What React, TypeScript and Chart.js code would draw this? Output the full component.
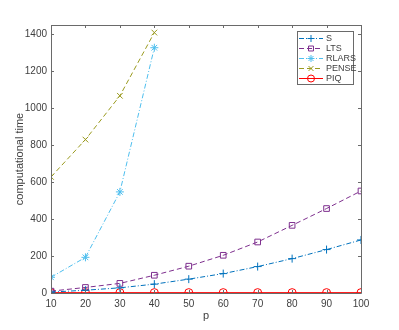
import React, { useEffect, useRef } from "react";
import { Chart, registerables } from "chart.js";
import { drawPoint } from "chart.js/helpers";

Chart.register(...registerables);

const pValues = [10, 20, 30, 40, 50, 60, 70, 80, 90, 100];
const sTime = [5, 15, 28, 48, 75, 105, 143, 186, 235, 287];
const ltsTime = [10, 30, 52, 96, 145, 204, 276, 366, 457, 552];
const rlarsTime = [85, 193, 547, 1327];
const penseTime = [628, 830, 1067, 1409];
const piqTime = [2, 2, 2, 2, 2, 2, 2, 2, 2, 2];
const yTicks = [0, 200, 400, 600, 800, 1000, 1200, 1400];
const seriesNames = ["S", "LTS", "RLARS", "PENSE", "PIQ"];

const AXIS_COLOR = "#6a6a6a";
const TEXT_COLOR = "#404040";
const FONT = "Liberation Sans, Arial, sans-serif";

type Style = { color: string; dash: number[]; point: string; radius: number };
const styles: Style[] = [
  { color: "#0072BD", dash: [5, 2, 1, 2], point: "cross", radius: 4 },
  { color: "#7E2F8E", dash: [5, 3], point: "rect", radius: 4 },
  { color: "#4DBEEE", dash: [5, 2, 1, 2], point: "star", radius: 4 },
  { color: "#9a9a1e", dash: [5, 3], point: "crossRot", radius: 4 },
  { color: "#FF0000", dash: [], point: "circle", radius: 4 },
];

const toPts = (ys: number[]) => ys.map((y, i) => ({ x: pValues[i], y }));

const framePlugin = {
  id: "frame",
  afterDraw(chart: any) {
    const { ctx, chartArea: a, scales } = chart;
    const xs = scales.x;
    const ys = scales.y;
    ctx.save();
    ctx.strokeStyle = AXIS_COLOR;
    ctx.lineWidth = 1;
    ctx.setLineDash([]);
    ctx.beginPath();
    ctx.rect(a.left + 0.5, a.top + 0.5, a.right - a.left, a.bottom - a.top);
    ctx.stroke();
    const tl = 3;
    ctx.beginPath();
    pValues.forEach((v) => {
      const px = Math.round(xs.getPixelForValue(v)) + 0.5;
      ctx.moveTo(px, a.bottom);
      ctx.lineTo(px, a.bottom - tl);
      ctx.moveTo(px, a.top);
      ctx.lineTo(px, a.top + tl);
    });
    yTicks.forEach((v) => {
      const py = Math.round(ys.getPixelForValue(v)) + 0.5;
      ctx.moveTo(a.left, py);
      ctx.lineTo(a.left + tl, py);
      ctx.moveTo(a.right, py);
      ctx.lineTo(a.right - tl, py);
    });
    ctx.stroke();

    // axis titles
    ctx.fillStyle = TEXT_COLOR;
    ctx.font = `11px ${FONT}`;
    ctx.textAlign = "center";
    ctx.textBaseline = "middle";
    ctx.fillText("p", (a.left + a.right) / 2, 316);
    ctx.save();
    ctx.translate(20, (a.top + a.bottom) / 2);
    ctx.rotate(-Math.PI / 2);
    ctx.fillText("computational time", 0, 0);
    ctx.restore();

    // legend
    const bx = 297, by = 31, bw = 56, bh = 53;
    ctx.fillStyle = "#ffffff";
    ctx.fillRect(bx, by, bw, bh);
    ctx.strokeStyle = AXIS_COLOR;
    ctx.strokeRect(bx + 0.5, by + 0.5, bw, bh);
    ctx.font = `9px ${FONT}`;
    ctx.textAlign = "left";
    seriesNames.forEach((name, i) => {
      const st = styles[i];
      const yy = by + 7.5 + i * 10;
      ctx.strokeStyle = st.color;
      ctx.lineWidth = 1;
      ctx.setLineDash(st.dash);
      ctx.beginPath();
      ctx.moveTo(299, yy);
      ctx.lineTo(323, yy);
      ctx.stroke();
      ctx.setLineDash([]);
      ctx.fillStyle = st.point === "star" ? st.color : "rgba(0,0,0,0)";
      drawPoint(ctx, { pointStyle: st.point, radius: 3.5, rotation: 0, borderWidth: 1 } as any, 311, yy);
      ctx.fillStyle = TEXT_COLOR;
      ctx.fillText(name, 326, yy + 0.5);
    });
    ctx.restore();
  },
};

export default function App() {
  const ref = useRef<HTMLCanvasElement | null>(null);
  useEffect(() => {
    document.body.style.margin = "0";
    const allData = [sTime, ltsTime, rlarsTime, penseTime, piqTime];
    const datasets = allData.map((d, i) => {
      const st = styles[i];
      return {
        label: seriesNames[i],
        data: toPts(d),
        borderColor: st.color,
        backgroundColor: st.color,
        borderWidth: 1,
        borderDash: st.dash,
        pointStyle: st.point,
        pointRadius: st.radius,
        pointBorderColor: st.color,
        pointBackgroundColor: st.point === "star" ? st.color : "rgba(0,0,0,0)",
        pointBorderWidth: 1,
        fill: false,
        tension: 0,
      };
    });
    const chart = new Chart(ref.current as HTMLCanvasElement, {
      type: "line",
      data: { datasets } as any,
      plugins: [framePlugin],
      options: {
        animation: false,
        responsive: false,
        layout: { padding: { left: 0, top: 25, right: 38, bottom: 0 } },
        plugins: { legend: { display: false }, tooltip: { enabled: false } },
        scales: {
          x: {
            type: "linear",
            min: 10,
            max: 100,
            afterFit: (s: any) => { s.height = 37; },
            afterBuildTicks: (s: any) => { s.ticks = pValues.map((v) => ({ value: v })); },
            grid: { display: false, drawTicks: false },
            border: { display: false },
            ticks: { color: TEXT_COLOR, font: { family: FONT, size: 10 }, padding: 5, maxRotation: 0, callback: (v: any) => String(v) },
          },
          y: {
            type: "linear",
            min: 0,
            max: 1450,
            afterFit: (s: any) => { s.width = 51; },
            afterBuildTicks: (s: any) => { s.ticks = yTicks.map((v) => ({ value: v })); },
            grid: { display: false, drawTicks: false },
            border: { display: false },
            ticks: { color: TEXT_COLOR, font: { family: FONT, size: 10 }, padding: 4, callback: (v: any) => String(v) },
          },
        },
      } as any,
    });
    return () => chart.destroy();
  }, []);
  return (
    <div style={{ position: "fixed", left: 0, top: 0, width: 399, height: 330 }}>
      <canvas ref={ref} width={399} height={330} style={{ width: 399, height: 330 }} />
    </div>
  );
}
